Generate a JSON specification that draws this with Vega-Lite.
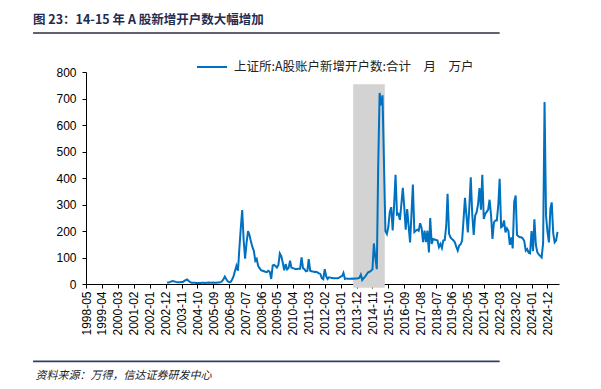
{
  "$schema": "https://vega.github.io/schema/vega-lite/v6.json",
  "width": 473,
  "height": 212,
  "autosize": {"type": "none"},
  "padding": {"left": 86, "top": 72, "right": 42, "bottom": 105},
  "background": "white",
  "title": {
    "text": "图 23：14-15 年 A 股新增开户数大幅增加",
    "anchor": "start",
    "frame": "group",
    "orient": "top",
    "dx": -53,
    "offset": 6,
    "font": "Noto Sans CJK SC",
    "fontSize": 12.5,
    "fontWeight": "bold",
    "color": "#1F2D50"
  },
  "config": {
    "view": {"stroke": null},
    "axis": {"grid": false, "labelOverlap": false, "domainColor": "#000000", "tickColor": "#000000", "labelColor": "#000000", "labelFont": "Liberation Sans", "labelFontSize": 12, "zindex": 1}
  },
  "datasets": {
    "accounts": [
      {"d":"2003-01","v":6},{"d":"2003-02","v":6},{"d":"2003-03","v":7},{"d":"2003-04","v":10},{"d":"2003-05","v":11},{"d":"2003-06","v":10},{"d":"2003-07","v":8},{"d":"2003-08","v":7},{"d":"2003-09","v":7},{"d":"2003-10","v":7},{"d":"2003-11","v":8},{"d":"2003-12","v":8},
      {"d":"2004-01","v":12},{"d":"2004-02","v":15},{"d":"2004-03","v":17},{"d":"2004-04","v":11},{"d":"2004-05","v":7},{"d":"2004-06","v":5},{"d":"2004-07","v":5},{"d":"2004-08","v":5},{"d":"2004-09","v":4},{"d":"2004-10","v":4},{"d":"2004-11","v":4},{"d":"2004-12","v":4},
      {"d":"2005-01","v":5},{"d":"2005-02","v":5},{"d":"2005-03","v":4},{"d":"2005-04","v":5},{"d":"2005-05","v":5},{"d":"2005-06","v":6},{"d":"2005-07","v":5},{"d":"2005-08","v":5},{"d":"2005-09","v":6},{"d":"2005-10","v":5},{"d":"2005-11","v":5},{"d":"2005-12","v":6},
      {"d":"2006-01","v":6},{"d":"2006-02","v":7},{"d":"2006-03","v":10},{"d":"2006-04","v":18},{"d":"2006-05","v":28},{"d":"2006-06","v":18},{"d":"2006-07","v":10},{"d":"2006-08","v":7},{"d":"2006-09","v":8},{"d":"2006-10","v":17},{"d":"2006-11","v":30},{"d":"2006-12","v":50},
      {"d":"2007-01","v":69},{"d":"2007-02","v":50},{"d":"2007-03","v":130},{"d":"2007-04","v":210},{"d":"2007-05","v":279},{"d":"2007-06","v":165},{"d":"2007-07","v":96},{"d":"2007-08","v":155},{"d":"2007-09","v":200},{"d":"2007-10","v":185},{"d":"2007-11","v":160},{"d":"2007-12","v":140},
      {"d":"2008-01","v":125},{"d":"2008-02","v":88},{"d":"2008-03","v":95},{"d":"2008-04","v":68},{"d":"2008-05","v":60},{"d":"2008-06","v":52},{"d":"2008-07","v":50},{"d":"2008-08","v":48},{"d":"2008-09","v":46},{"d":"2008-10","v":45},{"d":"2008-11","v":50},{"d":"2008-12","v":46},
      {"d":"2009-01","v":19},{"d":"2009-02","v":70},{"d":"2009-03","v":72},{"d":"2009-04","v":68},{"d":"2009-05","v":62},{"d":"2009-06","v":72},{"d":"2009-07","v":115},{"d":"2009-08","v":105},{"d":"2009-09","v":80},{"d":"2009-10","v":52},{"d":"2009-11","v":75},{"d":"2009-12","v":55},
      {"d":"2010-01","v":60},{"d":"2010-02","v":88},{"d":"2010-03","v":62},{"d":"2010-04","v":60},{"d":"2010-05","v":58},{"d":"2010-06","v":56},{"d":"2010-07","v":57},{"d":"2010-08","v":58},{"d":"2010-09","v":58},{"d":"2010-10","v":100},{"d":"2010-11","v":60},{"d":"2010-12","v":56},
      {"d":"2011-01","v":48},{"d":"2011-02","v":50},{"d":"2011-03","v":94},{"d":"2011-04","v":50},{"d":"2011-05","v":48},{"d":"2011-06","v":47},{"d":"2011-07","v":45},{"d":"2011-08","v":46},{"d":"2011-09","v":44},{"d":"2011-10","v":40},{"d":"2011-11","v":38},{"d":"2011-12","v":22},
      {"d":"2012-01","v":18},{"d":"2012-02","v":56},{"d":"2012-03","v":30},{"d":"2012-04","v":19},{"d":"2012-05","v":25},{"d":"2012-06","v":24},{"d":"2012-07","v":23},{"d":"2012-08","v":22},{"d":"2012-09","v":22},{"d":"2012-10","v":22},{"d":"2012-11","v":22},{"d":"2012-12","v":24},
      {"d":"2013-01","v":28},{"d":"2013-02","v":30},{"d":"2013-03","v":42},{"d":"2013-04","v":19},{"d":"2013-05","v":21},{"d":"2013-06","v":20},{"d":"2013-07","v":20},{"d":"2013-08","v":20},{"d":"2013-09","v":21},{"d":"2013-10","v":20},{"d":"2013-11","v":21},{"d":"2013-12","v":21},
      {"d":"2014-01","v":22},{"d":"2014-02","v":24},{"d":"2014-03","v":35},{"d":"2014-04","v":15},{"d":"2014-05","v":22},{"d":"2014-06","v":28},{"d":"2014-07","v":36},{"d":"2014-08","v":44},{"d":"2014-09","v":46},{"d":"2014-10","v":50},{"d":"2014-11","v":55},{"d":"2014-12","v":153},
      {"d":"2015-01","v":100},{"d":"2015-02","v":56},{"d":"2015-03","v":430},{"d":"2015-04","v":721},{"d":"2015-05","v":674},{"d":"2015-06","v":712},{"d":"2015-07","v":460},{"d":"2015-08","v":200},{"d":"2015-09","v":189},{"d":"2015-10","v":215},{"d":"2015-11","v":271},{"d":"2015-12","v":290},
      {"d":"2016-01","v":202},{"d":"2016-02","v":300},{"d":"2016-03","v":412},{"d":"2016-04","v":262},{"d":"2016-05","v":265},{"d":"2016-06","v":242},{"d":"2016-07","v":300},{"d":"2016-08","v":363},{"d":"2016-09","v":290},{"d":"2016-10","v":205},{"d":"2016-11","v":283},{"d":"2016-12","v":220},
      {"d":"2017-01","v":157},{"d":"2017-02","v":270},{"d":"2017-03","v":375},{"d":"2017-04","v":196},{"d":"2017-05","v":201},{"d":"2017-06","v":205},{"d":"2017-07","v":201},{"d":"2017-08","v":229},{"d":"2017-09","v":211},{"d":"2017-10","v":158},{"d":"2017-11","v":201},{"d":"2017-12","v":158},
      {"d":"2018-01","v":201},{"d":"2018-02","v":119},{"d":"2018-03","v":249},{"d":"2018-04","v":151},{"d":"2018-05","v":170},{"d":"2018-06","v":168},{"d":"2018-07","v":166},{"d":"2018-08","v":164},{"d":"2018-09","v":139},{"d":"2018-10","v":151},{"d":"2018-11","v":136},{"d":"2018-12","v":164},
      {"d":"2019-01","v":166},{"d":"2019-02","v":220},{"d":"2019-03","v":340},{"d":"2019-04","v":190},{"d":"2019-05","v":176},{"d":"2019-06","v":170},{"d":"2019-07","v":165},{"d":"2019-08","v":158},{"d":"2019-09","v":140},{"d":"2019-10","v":126},{"d":"2019-11","v":145},{"d":"2019-12","v":150},
      {"d":"2020-01","v":164},{"d":"2020-02","v":245},{"d":"2020-03","v":325},{"d":"2020-04","v":258},{"d":"2020-05","v":195},{"d":"2020-06","v":290},{"d":"2020-07","v":403},{"d":"2020-08","v":263},{"d":"2020-09","v":185},{"d":"2020-10","v":258},{"d":"2020-11","v":270},{"d":"2020-12","v":300},
      {"d":"2021-01","v":362},{"d":"2021-02","v":280},{"d":"2021-03","v":412},{"d":"2021-04","v":245},{"d":"2021-05","v":265},{"d":"2021-06","v":272},{"d":"2021-07","v":280},{"d":"2021-08","v":318},{"d":"2021-09","v":260},{"d":"2021-10","v":170},{"d":"2021-11","v":233},{"d":"2021-12","v":240},
      {"d":"2022-01","v":240},{"d":"2022-02","v":300},{"d":"2022-03","v":397},{"d":"2022-04","v":214},{"d":"2022-05","v":218},{"d":"2022-06","v":240},{"d":"2022-07","v":195},{"d":"2022-08","v":210},{"d":"2022-09","v":200},{"d":"2022-10","v":148},{"d":"2022-11","v":176},{"d":"2022-12","v":134},
      {"d":"2023-01","v":310},{"d":"2023-02","v":334},{"d":"2023-03","v":185},{"d":"2023-04","v":180},{"d":"2023-05","v":176},{"d":"2023-06","v":176},{"d":"2023-07","v":172},{"d":"2023-08","v":162},{"d":"2023-09","v":126},{"d":"2023-10","v":132},{"d":"2023-11","v":118},{"d":"2023-12","v":116},
      {"d":"2024-01","v":200},{"d":"2024-02","v":124},{"d":"2024-03","v":244},{"d":"2024-04","v":148},{"d":"2024-05","v":120},{"d":"2024-06","v":112},{"d":"2024-07","v":106},{"d":"2024-08","v":100},{"d":"2024-09","v":155},{"d":"2024-10","v":687},{"d":"2024-11","v":258},{"d":"2024-12","v":199},
      {"d":"2025-01","v":157},{"d":"2025-02","v":284},{"d":"2025-03","v":308},{"d":"2025-04","v":192},{"d":"2025-05","v":157},{"d":"2025-06","v":164},{"d":"2025-07","v":197}
    ]
  },
  "layer": [
    {
      "data": {"values": [{}]},
      "mark": {"type": "rect", "color": "#D3D3D3"},
      "encoding": {
        "x": {
          "datum": {"year": 2013, "month": 9, "date": 21, "utc": true}, "type": "temporal",
          "scale": {"type": "utc", "domain": [{"year": 1998, "month": 5, "date": 1, "utc": true}, {"year": 2025, "month": 8, "date": 1, "utc": true}]},
          "axis": {
            "labelExpr": "utcFormat(datum.value, '%Y-%m')", "labelAngle": -90, "labelOverlap": false, "labelFlush": false,
            "tickSize": 4, "labelPadding": 3, "tickCount": 100,
            "values": [
              {"year":1998,"month":5,"date":1,"utc":true},{"year":1999,"month":4,"date":1,"utc":true},{"year":2000,"month":3,"date":1,"utc":true},{"year":2001,"month":2,"date":1,"utc":true},{"year":2002,"month":1,"date":1,"utc":true},
              {"year":2002,"month":12,"date":1,"utc":true},{"year":2003,"month":11,"date":1,"utc":true},{"year":2004,"month":10,"date":1,"utc":true},{"year":2005,"month":9,"date":1,"utc":true},{"year":2006,"month":8,"date":1,"utc":true},
              {"year":2007,"month":7,"date":1,"utc":true},{"year":2008,"month":6,"date":1,"utc":true},{"year":2009,"month":5,"date":1,"utc":true},{"year":2010,"month":4,"date":1,"utc":true},{"year":2011,"month":3,"date":1,"utc":true},
              {"year":2012,"month":2,"date":1,"utc":true},{"year":2013,"month":1,"date":1,"utc":true},{"year":2013,"month":12,"date":1,"utc":true},{"year":2014,"month":11,"date":1,"utc":true},{"year":2015,"month":10,"date":1,"utc":true},
              {"year":2016,"month":9,"date":1,"utc":true},{"year":2017,"month":8,"date":1,"utc":true},{"year":2018,"month":7,"date":1,"utc":true},{"year":2019,"month":6,"date":1,"utc":true},{"year":2020,"month":5,"date":1,"utc":true},
              {"year":2021,"month":4,"date":1,"utc":true},{"year":2022,"month":3,"date":1,"utc":true},{"year":2023,"month":2,"date":1,"utc":true},{"year":2024,"month":1,"date":1,"utc":true},{"year":2024,"month":12,"date":1,"utc":true}
            ],
            "title": "资料来源：万得，信达证券研发中心",
            "titleX": -51, "titleY": 91, "titleAlign": "left", "titleBaseline": "middle", "titleAngle": 0,
            "titleFont": "Noto Sans CJK SC", "titleFontSize": 11, "titleFontStyle": "italic", "titleFontWeight": "normal", "titleColor": "#222222"
          }
        },
        "x2": {"datum": {"year": 2015, "month": 7, "date": 19, "utc": true}},
        "y": {
          "datum": -14, "type": "quantitative",
          "scale": {"domain": [0, 800]},
          "axis": {"values": [0,100,200,300,400,500,600,700,800], "tickCount": 50, "labelOverlap": false, "title": null, "tickSize": 4, "labelPadding": 6}
        },
        "y2": {"datum": 754}
      }
    },
    {
      "data": {"name": "accounts"},
      "mark": {"type": "line", "strokeWidth": 2},
      "encoding": {
        "x": {
          "field": "d", "type": "temporal",
          "scale": {"type": "utc", "domain": [{"year": 1998, "month": 5, "date": 1, "utc": true}, {"year": 2025, "month": 8, "date": 1, "utc": true}]},
          "axis": {
            "labelExpr": "utcFormat(datum.value, '%Y-%m')", "labelAngle": -90, "labelOverlap": false, "labelFlush": false,
            "tickSize": 4, "labelPadding": 3, "tickCount": 100,
            "values": [
              {"year":1998,"month":5,"date":1,"utc":true},{"year":1999,"month":4,"date":1,"utc":true},{"year":2000,"month":3,"date":1,"utc":true},{"year":2001,"month":2,"date":1,"utc":true},{"year":2002,"month":1,"date":1,"utc":true},
              {"year":2002,"month":12,"date":1,"utc":true},{"year":2003,"month":11,"date":1,"utc":true},{"year":2004,"month":10,"date":1,"utc":true},{"year":2005,"month":9,"date":1,"utc":true},{"year":2006,"month":8,"date":1,"utc":true},
              {"year":2007,"month":7,"date":1,"utc":true},{"year":2008,"month":6,"date":1,"utc":true},{"year":2009,"month":5,"date":1,"utc":true},{"year":2010,"month":4,"date":1,"utc":true},{"year":2011,"month":3,"date":1,"utc":true},
              {"year":2012,"month":2,"date":1,"utc":true},{"year":2013,"month":1,"date":1,"utc":true},{"year":2013,"month":12,"date":1,"utc":true},{"year":2014,"month":11,"date":1,"utc":true},{"year":2015,"month":10,"date":1,"utc":true},
              {"year":2016,"month":9,"date":1,"utc":true},{"year":2017,"month":8,"date":1,"utc":true},{"year":2018,"month":7,"date":1,"utc":true},{"year":2019,"month":6,"date":1,"utc":true},{"year":2020,"month":5,"date":1,"utc":true},
              {"year":2021,"month":4,"date":1,"utc":true},{"year":2022,"month":3,"date":1,"utc":true},{"year":2023,"month":2,"date":1,"utc":true},{"year":2024,"month":1,"date":1,"utc":true},{"year":2024,"month":12,"date":1,"utc":true}
            ],
            "title": "资料来源：万得，信达证券研发中心",
            "titleX": -51, "titleY": 91, "titleAlign": "left", "titleBaseline": "middle", "titleAngle": 0,
            "titleFont": "Noto Sans CJK SC", "titleFontSize": 11, "titleFontStyle": "italic", "titleFontWeight": "normal", "titleColor": "#222222"
          }
        },
        "y": {
          "field": "v", "type": "quantitative",
          "scale": {"domain": [0, 800]},
          "axis": {"values": [0,100,200,300,400,500,600,700,800], "tickCount": 50, "labelOverlap": false, "title": null, "tickSize": 4, "labelPadding": 6}
        },
        "color": {
          "datum": "上证所:A股账户新增开户数:合计　月　万户",
          "scale": {"range": ["#0070C0"]},
          "legend": {
            "orient": "none", "legendX": 110, "legendY": -21, "title": null, "padding": 0,
            "symbolType": "stroke", "symbolSize": 900, "symbolStrokeWidth": 2, "labelOffset": 6,
            "labelFont": "Noto Sans CJK SC", "labelFontSize": 12.5, "labelColor": "#222222", "labelLimit": 400
          }
        }
      }
    },
    {
      "data": {"values": [{}]},
      "mark": {"type": "rule", "color": "#2A2F3A", "strokeWidth": 1.4},
      "encoding": {
        "x": {"datum": {"year": 1995, "month": 4, "date": 13, "utc": true}, "type": "temporal", "axis": {"tickCount": 100}},
        "x2": {"datum": {"year": 2022, "month": 3, "date": 1, "utc": true}},
        "y": {"datum": 947, "type": "quantitative", "axis": {"tickCount": 50}}
      }
    },
    {
      "data": {"values": [{}]},
      "mark": {"type": "rule", "color": "#2E4066", "strokeWidth": 1.8},
      "encoding": {
        "x": {"datum": {"year": 1995, "month": 4, "date": 13, "utc": true}, "type": "temporal", "axis": {"tickCount": 100}},
        "x2": {"datum": {"year": 2022, "month": 3, "date": 1, "utc": true}},
        "y": {"datum": -292, "type": "quantitative", "axis": {"tickCount": 50}}
      }
    }
  ]
}
